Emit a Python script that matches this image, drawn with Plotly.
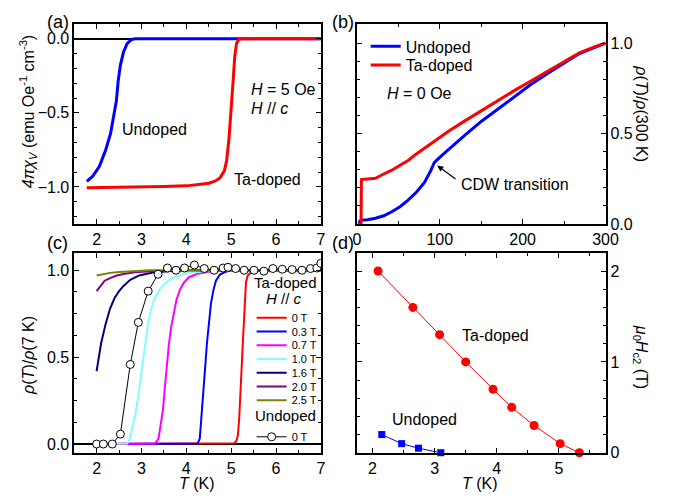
import plotly.graph_objects as go

# ---------------- data ----------------
# (a) magnetic susceptibility
T_a_undoped = [1.78, 1.91, 2.06, 2.20, 2.31, 2.38, 2.44, 2.48, 2.53, 2.60, 2.68, 2.78, 2.86, 3.5, 4.5, 5.5, 6.5, 7.0]
chi_undoped = [-0.962, -0.929, -0.863, -0.752, -0.641, -0.531, -0.42, -0.287, -0.177, -0.088, -0.033, -0.004, 0.0, 0.0, 0.0, 0.0, 0.0, 0.0]
T_a_tadoped = [1.78, 2.5, 3.0, 3.5, 4.0, 4.3, 4.5, 4.65, 4.75, 4.85, 4.9, 4.95, 5.0, 5.04, 5.08, 5.12, 5.17, 5.22, 6.0, 7.0]
chi_tadoped = [-1.005, -1.003, -1.0, -0.998, -0.993, -0.985, -0.975, -0.96, -0.94, -0.89, -0.82, -0.68, -0.50, -0.30, -0.12, -0.03, -0.005, 0.0, 0.0, 0.0]

# (b) normalized resistivity vs T up to 300 K
T_b_undoped = [1.8, 2.7, 3.0, 4.7, 12.6, 22.4, 32.3, 42.1, 52.0, 61.8, 71.7, 81.5, 89.4, 93.3, 101.2, 111.0, 130.7, 150.4, 170.1, 189.8, 209.4, 229.1, 248.8, 268.5, 300.0]
rho_b_undoped = [0.0, 0.0, 0.012, 0.02, 0.023, 0.031, 0.045, 0.067, 0.095, 0.132, 0.175, 0.229, 0.297, 0.339, 0.373, 0.414, 0.492, 0.568, 0.636, 0.703, 0.769, 0.829, 0.888, 0.942, 1.0]
T_b_tadoped = [1.8, 5.0, 5.4, 12.6, 22.4, 32.3, 42.1, 52.0, 61.8, 71.7, 81.5, 91.3, 111.0, 130.7, 150.4, 170.1, 189.8, 209.4, 229.1, 248.8, 268.5, 288.0, 300.0]
rho_b_tadoped = [0.0, 0.0, 0.245, 0.247, 0.252, 0.276, 0.297, 0.324, 0.351, 0.387, 0.418, 0.450, 0.514, 0.571, 0.627, 0.683, 0.737, 0.789, 0.841, 0.895, 0.946, 0.982, 1.0]

# (c) low-T resistivity under field (Ta-doped) and undoped at 0 T
field_labels = ["0 T", "0.3 T", "0.7 T", "1.0 T", "1.6 T", "2.0 T", "2.5 T"]
field_colors = ["#ff0000", "#0000ff", "#ff00ff", "#80ffff", "#000080", "#800080", "#808000"]
T_c_0T = [2.0, 5.07, 5.12, 5.15, 5.18, 5.2, 5.23, 5.26, 5.3, 5.33, 5.37, 5.45, 5.6, 7.0]
r_c_0T = [0.0, 0.005, 0.02, 0.05, 0.15, 0.24, 0.42, 0.58, 0.78, 0.93, 0.97, 0.99, 1.0, 1.0]
T_c_03T = [2.0, 4.25, 4.3, 4.34, 4.38, 4.42, 4.46, 4.5, 4.55, 4.6, 4.66, 4.75, 4.86, 5.0, 7.0]
r_c_03T = [0.0, 0.003, 0.03, 0.15, 0.29, 0.44, 0.58, 0.7, 0.81, 0.88, 0.94, 0.975, 0.99, 1.0, 1.0]
T_c_07T = [2.0, 3.3, 3.38, 3.42, 3.48, 3.52, 3.56, 3.61, 3.66, 3.72, 3.78, 3.86, 3.95, 4.06, 4.25, 4.6, 5.0, 7.0]
r_c_07T = [0.0, 0.003, 0.03, 0.1, 0.2, 0.32, 0.44, 0.57, 0.67, 0.76, 0.83, 0.89, 0.93, 0.96, 0.98, 0.995, 1.0, 1.0]
T_c_10T = [2.0, 2.68, 2.74, 2.8, 2.87, 2.93, 2.98, 3.03, 3.08, 3.14, 3.2, 3.28, 3.38, 3.5, 3.68, 3.95, 4.4, 5.0, 7.0]
r_c_10T = [0.0, 0.003, 0.03, 0.1, 0.18, 0.28, 0.37, 0.48, 0.58, 0.68, 0.76, 0.83, 0.88, 0.92, 0.955, 0.98, 0.995, 1.0, 1.0]
T_c_16T = [2.0, 2.05, 2.1, 2.2, 2.3, 2.4, 2.5, 2.6, 2.75, 2.95, 3.25, 3.6, 4.0, 7.0]
r_c_16T = [0.42, 0.51, 0.58, 0.69, 0.78, 0.84, 0.88, 0.91, 0.945, 0.97, 0.987, 0.995, 1.0, 1.0]
T_c_20T = [2.0, 2.08, 2.18, 2.3, 2.45, 2.6, 2.85, 3.2, 3.6, 4.0, 7.0]
r_c_20T = [0.88, 0.91, 0.94, 0.955, 0.97, 0.978, 0.988, 0.994, 0.998, 1.0, 1.0]
T_c_25T = [2.0, 2.1, 2.3, 2.5, 2.8, 3.2, 7.0]
r_c_25T = [0.97, 0.975, 0.985, 0.99, 0.995, 1.0, 1.0]
T_c_list = [T_c_0T, T_c_03T, T_c_07T, T_c_10T, T_c_16T, T_c_20T, T_c_25T]
r_c_list = [r_c_0T, r_c_03T, r_c_07T, r_c_10T, r_c_16T, r_c_20T, r_c_25T]

T_c_undoped = [2.0, 2.15, 2.35, 2.53, 2.75, 2.93, 3.15, 3.37, 3.58, 3.77, 3.96, 4.18, 4.4, 4.62, 4.82, 4.93, 5.10, 5.29, 5.51, 5.73, 5.93, 6.14, 6.36, 6.58, 6.77, 6.91, 7.0]
r_c_undoped = [0.0, 0.0, 0.0, 0.057, 0.458, 0.70, 0.88, 0.977, 1.013, 1.0, 1.013, 1.03, 1.01, 1.0, 1.013, 1.017, 1.01, 1.0, 1.0, 0.995, 1.01, 1.006, 1.004, 1.0, 1.01, 1.013, 1.04]

# (d) upper critical field
T_d_tadoped = [2.09, 2.65, 3.08, 3.50, 3.94, 4.24, 4.60, 5.02, 5.33]
Hc2_tadoped = [2.0, 1.6, 1.3, 1.0, 0.7, 0.5, 0.3, 0.1, 0.0]
T_d_undoped = [2.15, 2.47, 2.74, 3.10]
Hc2_undoped = [0.2, 0.1, 0.05, 0.0]

# ---------------- figure ----------------
W, H = 678, 502
FONT = "Liberation Sans, Arial, sans-serif"
BLUE = "#0000ff"
RED = "#ff0000"

def px_x(p):
    return p / W

def px_y(p):
    return 1 - p / H

fig = go.Figure()
legends = {}

def make_legend(name, x_px, top_px, size):
    legends[name] = dict(x=px_x(x_px), y=px_y(top_px), xanchor="left", yanchor="top",
                         bgcolor="rgba(0,0,0,0)", borderwidth=0,
                         font=dict(family=FONT, size=size, color="black"), tracegroupgap=0)

# (a)
fig.add_trace(go.Scatter(x=T_a_undoped, y=chi_undoped, mode="lines", line=dict(color=BLUE, width=3),
                         xaxis="x", yaxis="y", showlegend=False))
fig.add_trace(go.Scatter(x=T_a_tadoped, y=chi_tadoped, mode="lines", line=dict(color=RED, width=3),
                         xaxis="x", yaxis="y", showlegend=False))
# (b)
fig.add_trace(go.Scatter(x=T_b_undoped, y=rho_b_undoped, mode="lines", line=dict(color=BLUE, width=3),
                         xaxis="x2", yaxis="y2", name="Undoped", legend="legend"))
make_legend("legend", 371, 30, 16)
fig.add_trace(go.Scatter(x=T_b_tadoped, y=rho_b_tadoped, mode="lines", line=dict(color=RED, width=3),
                         xaxis="x2", yaxis="y2", name="Ta-doped", legend="legend2"))
make_legend("legend2", 371, 49, 16)
# (c) one single-entry legend per field, stacked like the original key
for i, (lab, col, tx, ry) in enumerate(zip(field_labels, field_colors, T_c_list, r_c_list)):
    lname = "legend%d" % (i + 3)
    fig.add_trace(go.Scatter(x=tx, y=ry, mode="lines", line=dict(color=col, width=2),
                             xaxis="x3", yaxis="y3", name=lab, legend=lname))
    make_legend(lname, 254, 308.7 + 14 * i, 11)
lname = "legend%d" % (len(field_labels) + 3)
fig.add_trace(go.Scatter(x=T_c_undoped, y=r_c_undoped, mode="lines+markers",
                         line=dict(color="black", width=1),
                         marker=dict(symbol="circle", size=8, color="white", line=dict(color="black", width=1)),
                         xaxis="x3", yaxis="y3", name="0 T", legend=lname))
make_legend(lname, 254, 430, 11)
# (d)
fig.add_trace(go.Scatter(x=T_d_tadoped, y=Hc2_tadoped, mode="lines+markers", line=dict(color=RED, width=1),
                         marker=dict(symbol="circle", size=9, color=RED),
                         xaxis="x4", yaxis="y4", showlegend=False, cliponaxis=False))
fig.add_trace(go.Scatter(x=T_d_undoped, y=Hc2_undoped, mode="lines+markers", line=dict(color=BLUE, width=1),
                         marker=dict(symbol="square", size=7, color=BLUE),
                         xaxis="x4", yaxis="y4", showlegend=False, cliponaxis=False))

common = dict(showline=True, linecolor="black", linewidth=1.5, mirror="ticks", ticks="inside",
              ticklen=5, tickwidth=1.2, tickcolor="black", showgrid=False,
              tickfont=dict(family=FONT, size=16, color="black"))

dom_left = [px_x(72), px_x(325)]
dom_right = [px_x(362), px_x(617)]
dom_top = [px_y(228), px_y(24.5)]
dom_bot = [px_y(461), px_y(257.5)]

def minor(d, t0=0):
    return dict(ticks="inside", ticklen=3, tickwidth=1, tickcolor="black", dtick=d, tick0=t0, showgrid=False)

fig.update_layout(
    width=W, height=H, margin=dict(l=0, r=0, t=0, b=0),
    paper_bgcolor="white", plot_bgcolor="white",
    font=dict(family=FONT, size=16, color="black"),
    xaxis=dict(domain=dom_left, range=[1.5, 7], dtick=1, tick0=0, minor=minor(0.5), anchor="y",
               zeroline=False, **common),
    yaxis=dict(domain=dom_top, range=[-1.25, 0.1], tickvals=[-1.0, -0.5, 0.0], tickformat=".1f",
               minor=minor(0.1), anchor="x", zeroline=True, zerolinecolor="black", zerolinewidth=1.5, **common),
    xaxis2=dict(domain=dom_right, range=[0, 300], dtick=100, tick0=0, minor=minor(50), anchor="y2",
                zeroline=False, **common),
    yaxis2=dict(domain=dom_top, range=[0, 1.105], dtick=0.5, tick0=0, tickformat=".1f", side="right",
                minor=minor(0.1), anchor="x2", zeroline=False, **common),
    xaxis3=dict(domain=dom_left, range=[1.5, 7], dtick=1, tick0=0, minor=minor(0.5), anchor="y3",
                zeroline=False, **common),
    yaxis3=dict(domain=dom_bot, range=[-0.05, 1.1], dtick=0.5, tick0=0, tickformat=".1f",
                minor=minor(0.125), anchor="x3", zeroline=True, zerolinecolor="black", zerolinewidth=1.5, **common),
    xaxis4=dict(domain=dom_right, range=[1.75, 5.75], dtick=1, tick0=0, minor=minor(0.5), anchor="y4",
                zeroline=False, **common),
    yaxis4=dict(domain=dom_bot, range=[0, 2.2], dtick=1, tick0=0, side="right",
                minor=minor(0.2), anchor="x4", zeroline=False, **common),
)
fig.update_layout(**legends)

ann = []
def A(text, x, y, xref, yref, size=16, angle=0, xanchor="center"):
    ann.append(dict(text=text, x=x, y=y, xref=xref, yref=yref, showarrow=False, textangle=angle,
                    font=dict(family=FONT, size=size, color="black"), xanchor=xanchor, yanchor="middle"))

# panel labels
A("(a)", px_x(55), px_y(22), "paper", "paper", size=18)
A("(b)", px_x(348), px_y(22), "paper", "paper", size=18)
A("(c)", px_x(55), px_y(247), "paper", "paper", size=18)
A("(d)", px_x(348), px_y(247), "paper", "paper", size=18)
# axis titles
A("<i>4πχ</i><sub><i>V</i></sub> (emu Oe<sup>-1</sup> cm<sup>-3</sup>)", px_x(25), px_y(113), "paper", "paper", angle=-90)
A("<i>ρ</i>(<i>T</i>)/<i>ρ</i>(7 K)", px_x(25), px_y(362), "paper", "paper", angle=-90)
A("<i>ρ</i>(<i>T</i>)/<i>ρ</i>(300 K)", px_x(653), px_y(116), "paper", "paper", angle=90)
A("<i>μ</i><sub>0</sub><i>H</i><sub>c2</sub> (T)", px_x(653), px_y(363), "paper", "paper", angle=90)
A("<i>T</i> (K)", px_x(198), px_y(492), "paper", "paper")
A("<i>T</i> (K)", px_x(488), px_y(492), "paper", "paper")
# (a) texts
A("<i>H</i> = 5 Oe", 5.4, -0.34, "x", "y", xanchor="left")
A("<i>H</i> // <i>c</i>", 5.4, -0.47, "x", "y", xanchor="left")
A("Undoped", 3.3, -0.61, "x", "y")
A("Ta-doped", 5.8, -0.95, "x", "y")
# (b) texts
A("<i>H</i> = 0 Oe", 75, 0.72, "x2", "y2")
A("CDW transition", 123, 0.217, "x2", "y2", xanchor="left")
ann.append(dict(x=97, y=0.323, ax=120.8, ay=0.242, xref="x2", yref="y2", axref="x2", ayref="y2",
                showarrow=True, arrowhead=2, arrowsize=1, arrowwidth=1.2, arrowcolor="black", text=""))
# (c) texts
A("Ta-doped", px_x(289), px_y(288), "paper", "paper", size=15)
A("<i>H</i> // <i>c</i>", px_x(287), px_y(304), "paper", "paper", size=15)
A("Undoped", px_x(289), px_y(423), "paper", "paper", size=15)
# (d) texts
A("Ta-doped", 3.98, 1.29, "x4", "y4")
A("Undoped", 2.84, 0.37, "x4", "y4")

fig.update_layout(annotations=ann)
fig.write_html("out.html")
